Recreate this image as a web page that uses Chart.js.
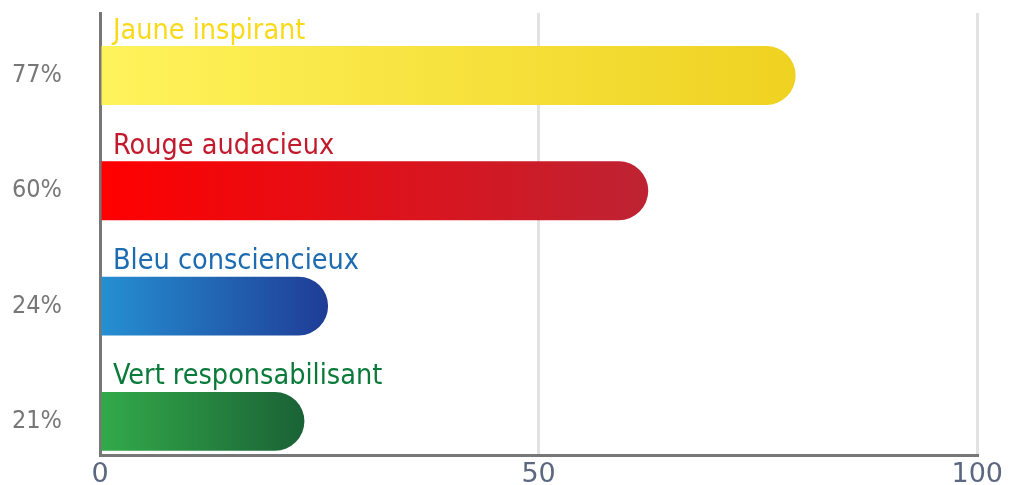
<!DOCTYPE html>
<html>
<head>
<meta charset="utf-8">
<script src="https://cdn.jsdelivr.net/npm/chart.js@4"></script>
<style>
  html, body { margin:0; padding:0; background:#fff; }
  #wrap { width:1009px; height:485px; }
</style>
</head>
<body>
<div id="wrap"><canvas id="chart"></canvas></div>
<script>
const categories = ["Jaune inspirant", "Rouge audacieux", "Bleu consciencieux", "Vert responsabilisant"];
const values = [79.3, 62.5, 26, 23.3];
const percentLabels = ["77%", "60%", "24%", "21%"];
const xTicks = [0, 50, 100];
const gradStops = [["#fff35c", "#efd221"], ["#ff0000", "#be2333"], ["#2590d2", "#1f3c96"], ["#33aa4a", "#1a6236"]];
const textColors = ["#f8da18", "#c01a2c", "#1d6bb0", "#0a7a3a"];

const TITLE_FONT = "DejaVu Sans Condensed";

function barGradient(ctx, i) {
  const chart = ctx.chart;
  const area = chart.chartArea;
  const xs = chart.scales.x;
  if (!area || !xs) return gradStops[i][0];
  const g = chart.ctx.createLinearGradient(area.left, 0, xs.getPixelForValue(values[i]), 0);
  g.addColorStop(0, gradStops[i][0]);
  g.addColorStop(1, gradStops[i][1]);
  return g;
}

// category name written above each bar
const titlesPlugin = {
  id: "barTitles",
  afterDatasetsDraw(chart) {
    const c = chart.ctx;
    const meta = chart.getDatasetMeta(0);
    c.save();
    c.font = "28.5px '" + TITLE_FONT + "'";
    c.textAlign = "left";
    c.textBaseline = "alphabetic";
    meta.data.forEach((bar, i) => {
      const top = bar.y - bar.height / 2;
      c.fillStyle = textColors[i];
      c.fillText(categories[i], chart.chartArea.left + 13, top - 7.5);
    });
    c.restore();
  }
};

new Chart(document.getElementById("chart"), {
  type: "bar",
  data: {
    datasets: [{
      data: values.map((v, i) => ({ x: v, y: i })),
      backgroundColor: ctx => barGradient(ctx, ctx.dataIndex),
      borderRadius: 30,
      borderSkipped: "start",
      categoryPercentage: 0.51,
      barPercentage: 1
    }]
  },
  options: {
    indexAxis: "y",
    responsive: true,
    maintainAspectRatio: false,
    animation: false,
    layout: { padding: { top: 13, right: 31, left: 12, bottom: 0 } },
    plugins: { legend: { display: false }, tooltip: { enabled: false } },
    scales: {
      x: {
        min: 0, max: 100,
        afterBuildTicks: s => { s.ticks = xTicks.map(v => ({ value: v })); },
        afterFit: s => { s.height = 30; },
        grid: { color: "#e2e2e2", lineWidth: 3, drawTicks: false },
        border: { color: "#777", width: 3 },
        ticks: { color: "#5b6880", padding: 6, font: { family: "DejaVu Sans", size: 27, lineHeight: 1 } }
      },
      y: {
        type: "linear",
        offset: false,
        reverse: true,
        min: -0.542, max: 3.292,
        afterBuildTicks: s => { s.ticks = percentLabels.map((_, i) => ({ value: i })); },
        afterFit: s => { s.width = 88; },
        grid: { display: false, drawTicks: false, offset: false },
        border: { color: "#777", width: 3 },
        ticks: {
          color: "#777", padding: 0, crossAlign: "far",
          callback: v => percentLabels[v],
          font: { family: "DejaVu Sans Condensed", size: 25, lineHeight: 1 }
        }
      }
    }
  },
  plugins: [titlesPlugin]
});
</script>
</body>
</html>
